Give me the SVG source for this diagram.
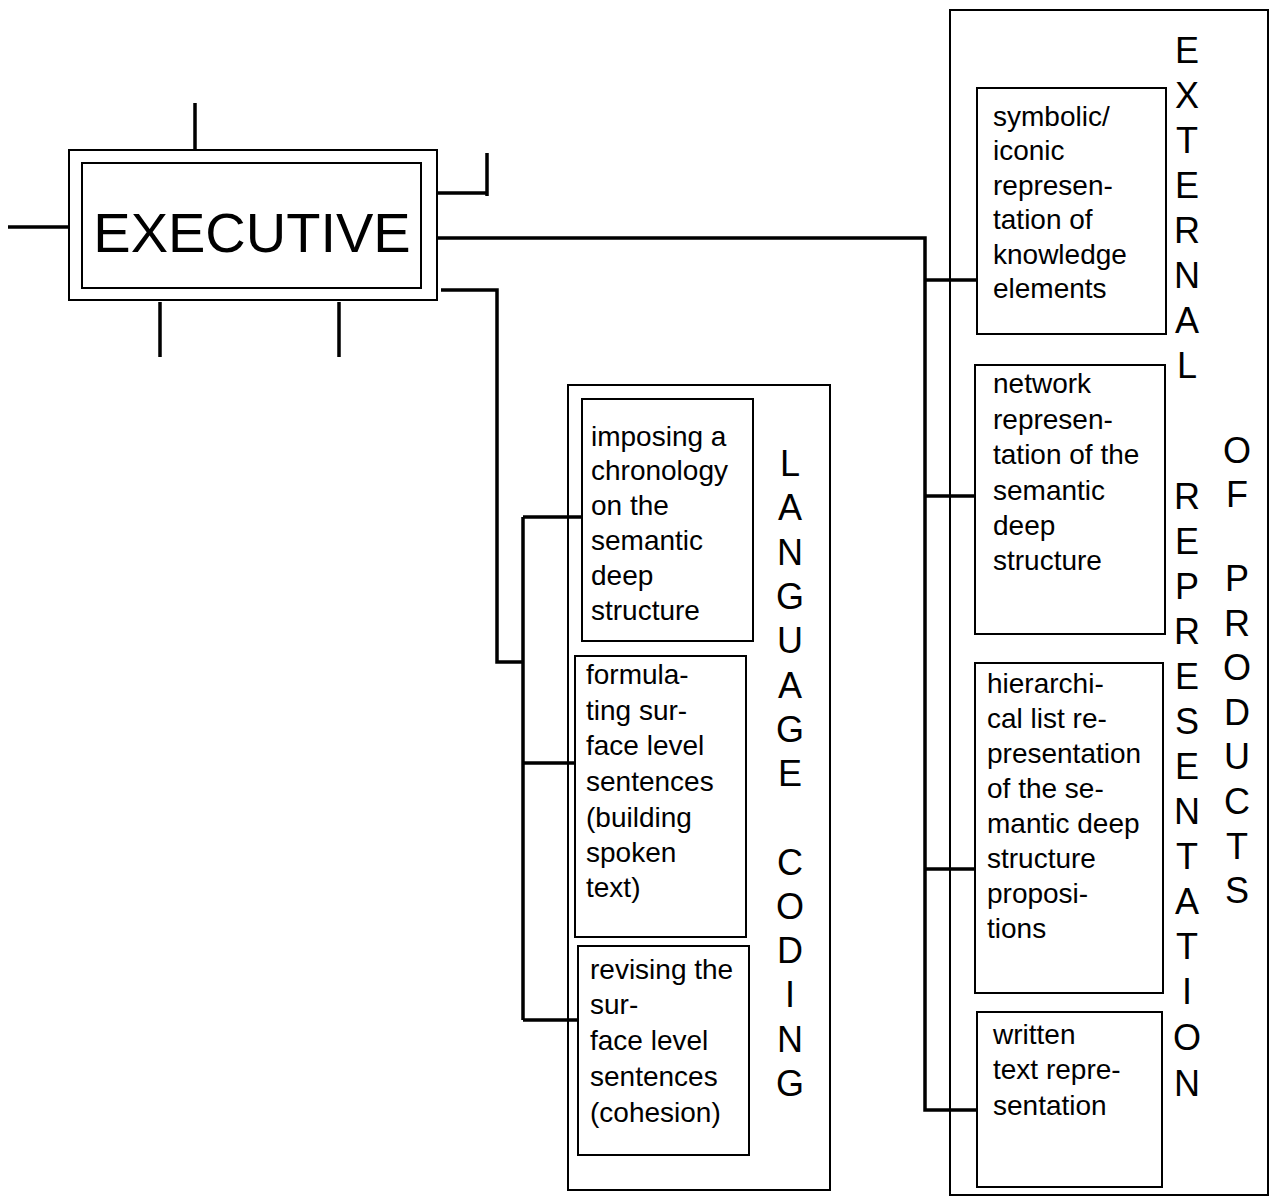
<svg xmlns="http://www.w3.org/2000/svg" width="1271" height="1198" viewBox="0 0 1271 1198">
<style>
.box{fill:none;stroke:#000;stroke-width:2}
.stub{fill:none;stroke:#000;stroke-width:3.5}
.wire{fill:none;stroke:#000;stroke-width:3.5;stroke-linejoin:miter}
.t{font-family:"Liberation Sans",Arial,sans-serif;font-size:28px;fill:#000}
.v{font-family:"Liberation Sans",Arial,sans-serif;font-size:36px;fill:#000;text-anchor:middle}
.ex{font-family:"Liberation Sans",Arial,sans-serif;font-size:56px;fill:#000;text-anchor:middle}
</style>
<rect width="1271" height="1198" fill="#fff"/>

<g id="connectors">
  <path class="stub" d="M195,103 V150 M437,193 H487 M487,153 V196 M8,227 H69 M160,302 V357 M339,302 V357"/>
  <path class="wire" d="M437,238 H925 V1110 H977"/>
  <path class="wire" d="M925,280 H977 M925,496 H975 M925,869 H975"/>
  <path class="wire" d="M441,290 H497 V662 H523"/>
  <path class="wire" d="M523,517 V1020 M523,517 H582 M523,763 H575 M523,1020 H578"/>
</g>

<g id="executive">
  <rect class="box" x="69" y="150" width="368" height="150"/>
  <rect class="box" x="82" y="163" width="339" height="125"/>
  <text class="ex" x="252" y="252">EXECUTIVE</text>
</g>

<g id="language-coding">
  <rect class="box" x="568" y="385" width="262" height="805"/>
  <text class="v"><tspan x="790" y="476">L</tspan><tspan x="790" y="520">A</tspan><tspan x="790" y="565">N</tspan><tspan x="790" y="609">G</tspan><tspan x="790" y="653">U</tspan><tspan x="790" y="698">A</tspan><tspan x="790" y="742">G</tspan><tspan x="790" y="786">E</tspan><tspan x="790" y="875">C</tspan><tspan x="790" y="919">O</tspan><tspan x="790" y="963">D</tspan><tspan x="790" y="1007">I</tspan><tspan x="790" y="1052">N</tspan><tspan x="790" y="1096">G</tspan></text>
</g>

<g id="imposing">
  <rect class="box" x="582" y="399" width="171" height="242"/>
  <text class="t"><tspan x="591" y="446">imposing a</tspan><tspan x="591" y="480">chronology</tspan><tspan x="591" y="515">on the</tspan><tspan x="591" y="550">semantic</tspan><tspan x="591" y="585">deep</tspan><tspan x="591" y="620">structure</tspan></text>
</g>

<g id="formulating">
  <rect class="box" x="575" y="656" width="171" height="281"/>
  <text class="t"><tspan x="586" y="684">formula-</tspan><tspan x="586" y="720">ting sur-</tspan><tspan x="586" y="755">face level</tspan><tspan x="586" y="791">sentences</tspan><tspan x="586" y="827">(building</tspan><tspan x="586" y="862">spoken</tspan><tspan x="586" y="897">text)</tspan></text>
</g>

<g id="revising">
  <rect class="box" x="578" y="946" width="171" height="209"/>
  <text class="t"><tspan x="590" y="979">revising the</tspan><tspan x="590" y="1014">sur-</tspan><tspan x="590" y="1050">face level</tspan><tspan x="590" y="1086">sentences</tspan><tspan x="590" y="1122">(cohesion)</tspan></text>
</g>

<g id="external-representation">
  <rect class="box" x="950" y="10" width="318" height="1185"/>
  <text class="v"><tspan x="1187" y="63">E</tspan><tspan x="1187" y="108">X</tspan><tspan x="1187" y="153">T</tspan><tspan x="1187" y="198">E</tspan><tspan x="1187" y="243">R</tspan><tspan x="1187" y="288">N</tspan><tspan x="1187" y="333">A</tspan><tspan x="1187" y="378">L</tspan></text>
  <text class="v"><tspan x="1187" y="509">R</tspan><tspan x="1187" y="554">E</tspan><tspan x="1187" y="599">P</tspan><tspan x="1187" y="644">R</tspan><tspan x="1187" y="689">E</tspan><tspan x="1187" y="734">S</tspan><tspan x="1187" y="779">E</tspan><tspan x="1187" y="824">N</tspan><tspan x="1187" y="869">T</tspan><tspan x="1187" y="914">A</tspan><tspan x="1187" y="959">T</tspan><tspan x="1187" y="1004">I</tspan><tspan x="1187" y="1050">O</tspan><tspan x="1187" y="1096">N</tspan></text>
  <text class="v"><tspan x="1237" y="463">O</tspan><tspan x="1237" y="507">F</tspan><tspan x="1237" y="591">P</tspan><tspan x="1237" y="636">R</tspan><tspan x="1237" y="680">O</tspan><tspan x="1237" y="725">D</tspan><tspan x="1237" y="769">U</tspan><tspan x="1237" y="814">C</tspan><tspan x="1237" y="859">T</tspan><tspan x="1237" y="903">S</tspan></text>
</g>

<g id="symbolic">
  <rect class="box" x="977" y="88" width="189" height="246"/>
  <text class="t"><tspan x="993" y="126">symbolic/</tspan><tspan x="993" y="160">iconic</tspan><tspan x="993" y="195">represen-</tspan><tspan x="993" y="229">tation of</tspan><tspan x="993" y="264">knowledge</tspan><tspan x="993" y="298">elements</tspan></text>
</g>

<g id="network">
  <rect class="box" x="975" y="365" width="190" height="269"/>
  <text class="t"><tspan x="993" y="393">network</tspan><tspan x="993" y="429">represen-</tspan><tspan x="993" y="464">tation of the</tspan><tspan x="993" y="500">semantic</tspan><tspan x="993" y="535">deep</tspan><tspan x="993" y="570">structure</tspan></text>
</g>

<g id="hierarchical">
  <rect class="box" x="975" y="663" width="188" height="330"/>
  <text class="t"><tspan x="987" y="693">hierarchi-</tspan><tspan x="987" y="728">cal list re-</tspan><tspan x="987" y="763">presentation</tspan><tspan x="987" y="798">of the se-</tspan><tspan x="987" y="833">mantic deep</tspan><tspan x="987" y="868">structure</tspan><tspan x="987" y="903">proposi-</tspan><tspan x="987" y="938">tions</tspan></text>
</g>

<g id="written">
  <rect class="box" x="977" y="1012" width="185" height="175"/>
  <text class="t"><tspan x="993" y="1044">written</tspan><tspan x="993" y="1079">text repre-</tspan><tspan x="993" y="1115">sentation</tspan></text>
</g>
</svg>
